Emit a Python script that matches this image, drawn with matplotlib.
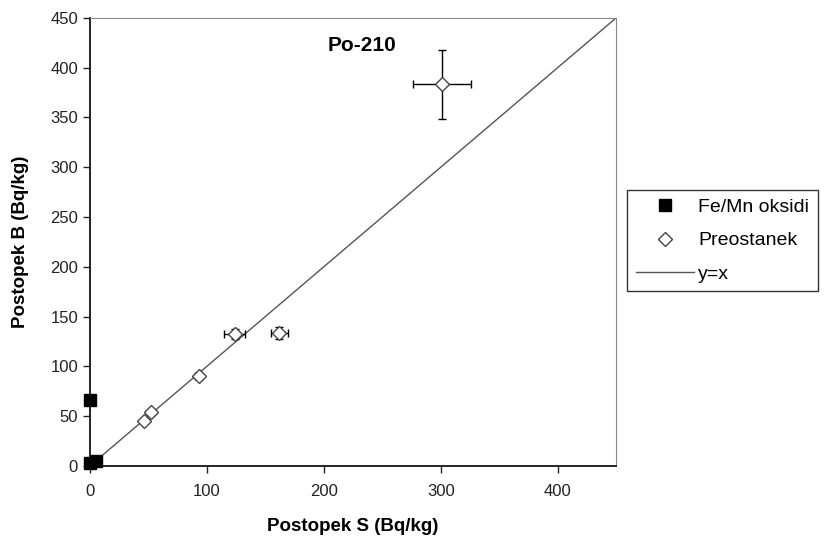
import matplotlib
matplotlib.use('Agg')

import matplotlib.pyplot as plt

plt.rcParams['font.family'] = ['Liberation Sans', 'DejaVu Sans']

# Fe/Mn oksidi
fe_x = [0, 0, 5]
fe_y = [66, 3, 5]

# Preostanek z napakami
pr_x = [46, 52, 93, 124, 162, 301]
pr_y = [45, 54, 90, 132, 133, 383]
pr_xerr = [0, 0, 3, 9, 7, 25]
pr_yerr = [0, 0, 3, 5, 6, 35]

ref_line = [0, 450]

fig = plt.figure(figsize=(8.25, 5.38), dpi=100)
ax = fig.add_axes([0.109, 0.134, 0.638, 0.833])

ax.plot(ref_line, ref_line, color='#555555', lw=1.0, label='y=x', zorder=1)
ax.errorbar(pr_x, pr_y, xerr=pr_xerr, yerr=pr_yerr, fmt='none', ecolor='black',
            elinewidth=1.0, capsize=3, capthick=1.0, zorder=2)
ax.plot(pr_x, pr_y, 'D', ms=7.5, mfc='white', mec='#444444', mew=1.0,
        ls='none', label='Preostanek', zorder=3)
ax.plot(fe_x, fe_y, 's', ms=8, color='black', ls='none',
        label='Fe/Mn oksidi', zorder=4, clip_on=False)

ax.set_xlim(0, 450)
ax.set_ylim(0, 450)
ax.set_xticks([0, 100, 200, 300, 400])
ax.set_yticks(range(0, 451, 50))
ax.tick_params(direction='out', length=5, width=1, labelsize=12, colors='#222222')
ax.tick_params(axis='x', pad=8)

for s in ['top', 'right']:
    ax.spines[s].set_color('#888888')
for s in ['left', 'bottom']:
    ax.spines[s].set_color('black')
    ax.spines[s].set_linewidth(1.2)

ax.set_xlabel('Postopek S (Bq/kg)', fontsize=13.5, fontweight='bold', labelpad=14)
ax.set_ylabel('Postopek B (Bq/kg)', fontsize=13.5, fontweight='bold', labelpad=15)
ax.text(233, 422, 'Po-210', fontsize=15, fontweight='bold', ha='center', va='center')

handles, labels = ax.get_legend_handles_labels()
order = [2, 1, 0]
leg = fig.legend([handles[i] for i in order], [labels[i] for i in order],
                 loc='upper left', bbox_to_anchor=(0.760, 0.647), fontsize=14,
                 frameon=True, fancybox=False, edgecolor='black',
                 borderpad=0.45, labelspacing=0.8, handlelength=3.0,
                 handletextpad=0.2, borderaxespad=0)
leg.get_frame().set_linewidth(1.0)

fig.savefig('out.png', dpi=100)
plt.close()
